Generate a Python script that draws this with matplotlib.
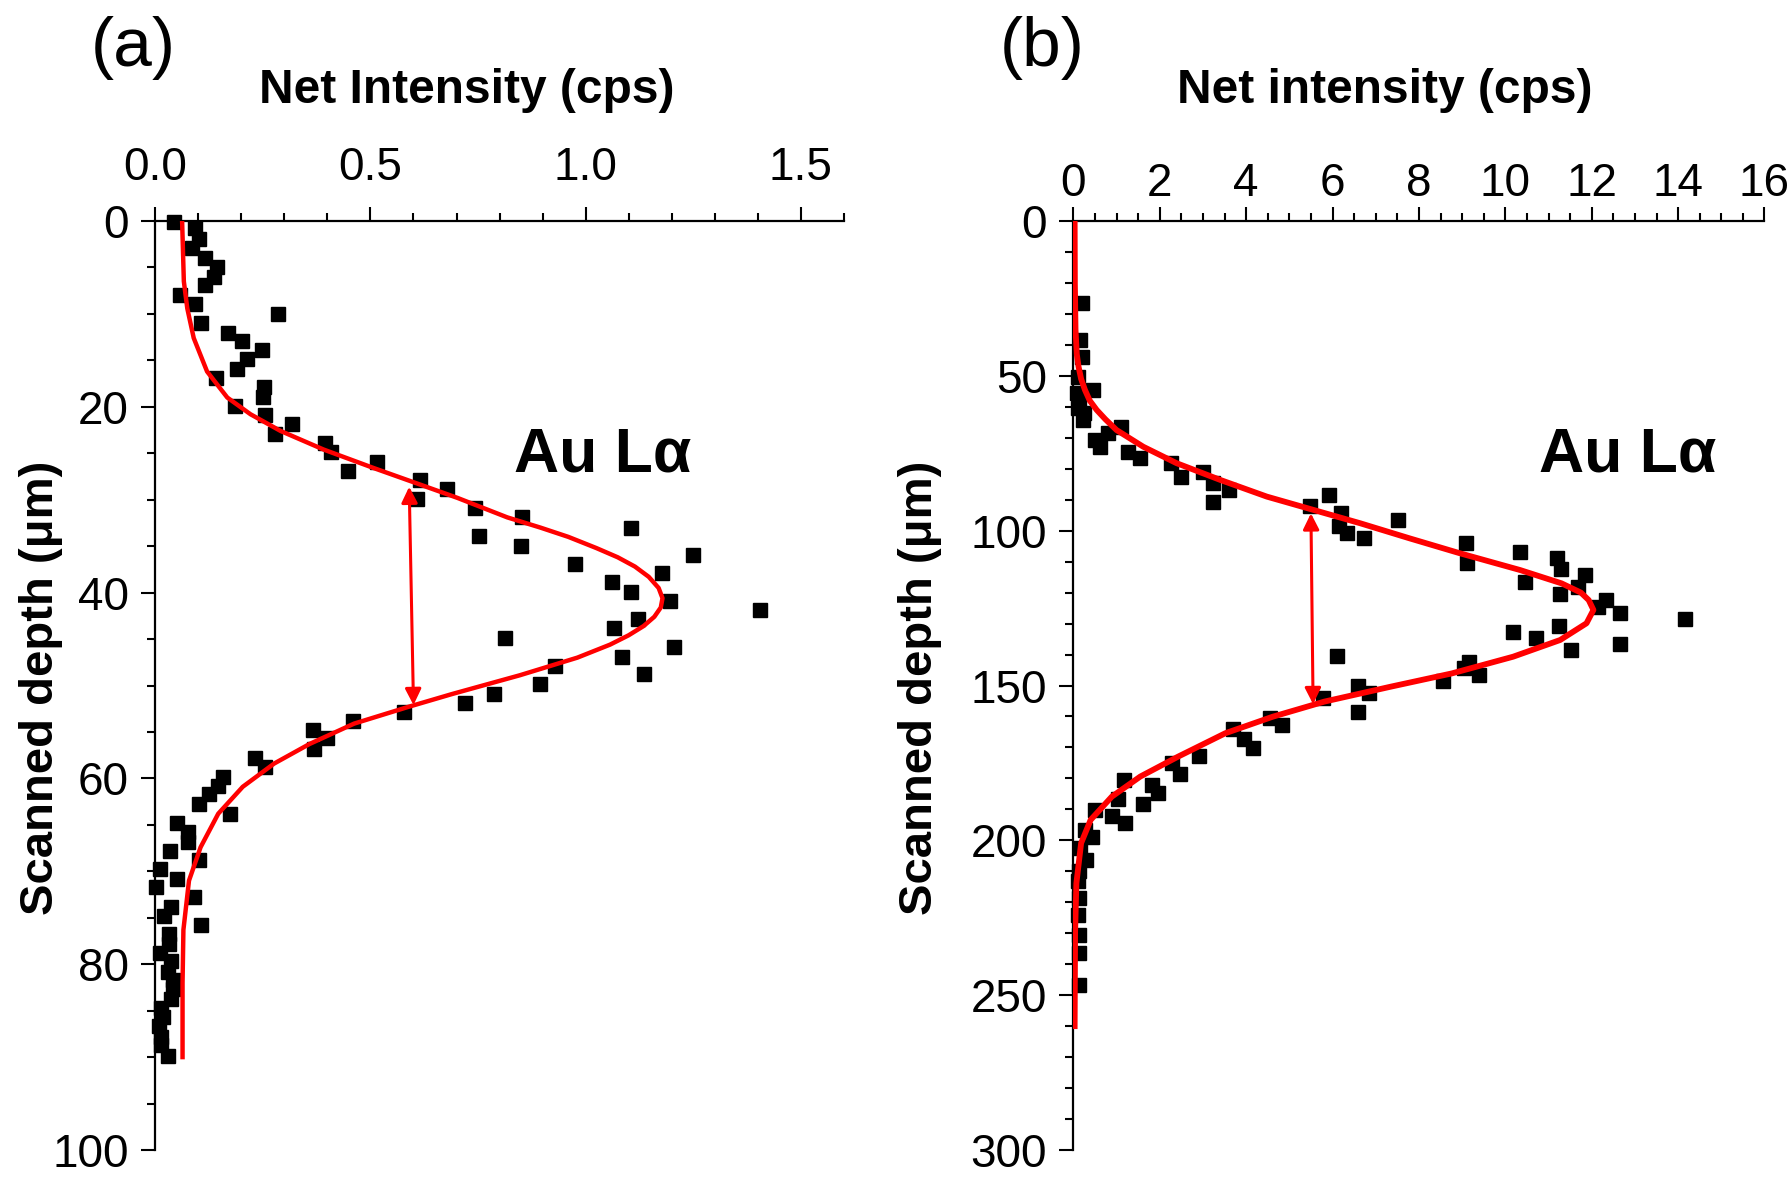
import matplotlib
matplotlib.use("Agg")
import matplotlib.pyplot as plt
from matplotlib.ticker import MultipleLocator, FormatStrFormatter

plt.rcParams['font.family'] = ['Liberation Sans', 'DejaVu Sans']

# ---- panel (a): measured points (depth in um, net intensity in cps)
depth_a = [0.1, 0.8, 1.9, 2.9, 4.0, 4.9, 6.0, 6.9, 8.0, 8.9, 10.0, 11.0, 12.0, 12.9,
           13.9, 14.9, 15.9, 16.9, 17.9, 18.9, 19.9, 20.9, 21.9, 22.9, 23.9, 24.9,
           25.9, 26.9, 27.9, 28.8, 29.9, 30.9, 31.9, 33.0, 33.9, 35.0, 36.0, 36.9,
           37.9, 38.9, 39.9, 40.9, 41.9, 42.8, 43.8, 44.9, 45.9, 46.9, 47.9, 48.8,
           49.8, 50.9, 51.9, 52.8, 53.8, 54.8, 55.7, 56.8, 57.8, 58.8, 59.8, 60.8,
           61.7, 62.8, 63.8, 64.8, 65.8, 66.8, 67.8, 68.8, 69.8, 70.8, 71.7, 72.8,
           73.8, 74.8, 75.8, 76.8, 77.8, 78.8, 79.7, 80.8, 81.7, 82.7, 83.7, 84.7,
           85.7, 86.7, 87.8, 88.7, 89.9]
intensity_a = [0.043, 0.093, 0.101, 0.085, 0.116, 0.143, 0.136, 0.116, 0.057, 0.091,
               0.285, 0.106, 0.168, 0.202, 0.248, 0.213, 0.190, 0.141, 0.252, 0.250,
               0.186, 0.254, 0.318, 0.277, 0.394, 0.409, 0.516, 0.448, 0.615, 0.678,
               0.608, 0.743, 0.853, 1.106, 0.752, 0.849, 1.250, 0.976, 1.178, 1.062,
               1.106, 1.197, 1.406, 1.122, 1.066, 0.813, 1.206, 1.085, 0.929, 1.135,
               0.895, 0.787, 0.719, 0.577, 0.459, 0.366, 0.400, 0.369, 0.231, 0.255,
               0.156, 0.145, 0.124, 0.102, 0.173, 0.050, 0.075, 0.075, 0.034, 0.102,
               0.011, 0.050, 0.002, 0.089, 0.035, 0.021, 0.106, 0.032, 0.032, 0.011,
               0.037, 0.030, 0.040, 0.041, 0.035, 0.014, 0.017, 0.008, 0.014, 0.014,
               0.029]

# fitted profile
fit_depth_a = [0, 6.5, 9.4, 12.6, 16.2, 19.0, 20.8, 22.6, 24.6, 26.6, 28.0, 29.8, 31.9,
               33.0, 34.0, 35.2, 36.2, 37.2, 38.3, 39.5, 40.6, 41.6, 42.6, 43.6, 44.6,
               45.6, 47.0, 48.9, 50.9, 52.3, 54.1, 56.3, 58.4, 60.9, 63.8, 67.4, 71.0,
               76.3, 82.0, 90.0]
fit_int_a = [0.062, 0.066, 0.074, 0.089, 0.120, 0.167, 0.221, 0.291, 0.391, 0.508,
             0.593, 0.702, 0.818, 0.895, 0.960, 1.025, 1.075, 1.115, 1.147, 1.170,
             1.179, 1.175, 1.160, 1.135, 1.100, 1.057, 0.981, 0.847, 0.691, 0.588,
             0.462, 0.358, 0.276, 0.203, 0.146, 0.105, 0.078, 0.065, 0.063, 0.063]

# FWHM arrow ends (intensity, depth)
arrow_a = [(0.590, 28.6), (0.600, 52.1)]

# ---- panel (b)
depth_b = [26.6, 38.4, 43.8, 50.5, 54.6, 55.6, 57.7, 60.5, 62.1, 64.3, 66.4, 68.6,
           70.8, 72.9, 74.5, 76.6, 78.2, 81.0, 82.6, 84.7, 86.9, 88.5, 90.6, 92.0,
           94.4, 96.5, 98.5, 100.6, 102.5, 104.1, 106.8, 108.7, 110.5, 112.5, 114.3,
           116.5, 118.3, 120.6, 122.4, 124.7, 126.5, 128.6, 130.8, 132.6, 134.5,
           136.6, 138.5, 140.5, 142.3, 144.4, 146.6, 148.5, 150.3, 152.5, 154.1,
           158.4, 160.6, 162.7, 164.1, 167.4, 170.3, 172.7, 174.9, 178.6, 180.5,
           182.1, 184.8, 186.7, 188.2, 190.2, 192.3, 194.5, 196.6, 198.8, 202.6,
           206.3, 210.0, 213.0, 218.5, 224.0, 230.5, 236.4, 246.6]
intensity_b = [0.19, 0.15, 0.19, 0.10, 0.45, 0.08, 0.12, 0.10, 0.25, 0.23, 1.11, 0.81,
               0.50, 0.62, 1.27, 1.54, 2.27, 3.00, 2.50, 3.23, 3.61, 5.91, 3.23, 5.47,
               6.20, 7.52, 6.15, 6.33, 6.73, 9.10, 10.35, 11.20, 9.12, 11.30, 11.84,
               10.45, 11.68, 11.27, 12.33, 12.15, 12.66, 14.17, 11.24, 10.18, 10.71,
               12.66, 11.53, 6.10, 9.15, 9.04, 9.40, 8.55, 6.58, 6.85, 5.78, 6.58,
               4.55, 4.83, 3.70, 3.95, 4.15, 2.91, 2.28, 2.48, 1.17, 1.82, 1.97, 1.03,
               1.62, 0.51, 0.89, 1.19, 0.26, 0.44, 0.16, 0.29, 0.12, 0.10, 0.12, 0.10,
               0.14, 0.14, 0.14]

fit_depth_b = [0, 20, 35, 43, 47, 51, 54.6, 58, 61.0, 64, 67.5, 72.9, 78.2, 83.6, 89.0,
               93.3, 97.6, 102.5, 107.3, 112.7, 117.0, 120, 122.4, 125.6, 129.9, 135.3,
               140.7, 146.1, 150.4, 155.2, 160.1, 165.4, 173.0, 179.4, 185.9, 193.4,
               200.9, 213.9, 230, 260]
fit_int_b = [0.03, 0.035, 0.05, 0.08, 0.12, 0.18, 0.27, 0.38, 0.54, 0.74, 1.00, 1.62,
             2.39, 3.40, 4.48, 5.56, 6.64, 7.79, 8.95, 10.34, 11.30, 11.75, 11.93, 12.04,
             11.88, 11.27, 10.18, 8.76, 7.34, 5.81, 4.61, 3.52, 2.42, 1.55, 0.89, 0.40,
             0.18, 0.07, 0.04, 0.03]

arrow_b = [(5.50, 94.4), (5.55, 156.0)]


fig = plt.figure(figsize=(17.91, 11.81), dpi=100)
ax_a = fig.add_axes([0.0868, 0.02625, 0.3842, 0.7866])
ax_b = fig.add_axes([0.5993, 0.02625, 0.3859, 0.7866])


def style_axis(ax, xmax, ymax, xmaj, xmin, ymaj, ymin, xpad):
    ax.set_xlim(0, xmax)
    ax.set_ylim(ymax, 0)
    ax.xaxis.tick_top()
    ax.xaxis.set_label_position('top')
    for s in ('bottom', 'right'):
        ax.spines[s].set_visible(False)
    for s in ('top', 'left'):
        ax.spines[s].set_linewidth(1.6)
    ax.xaxis.set_major_locator(MultipleLocator(xmaj))
    ax.xaxis.set_minor_locator(MultipleLocator(xmin))
    ax.yaxis.set_major_locator(MultipleLocator(ymaj))
    ax.yaxis.set_minor_locator(MultipleLocator(ymin))
    ax.tick_params(which='major', direction='out', length=10, width=1.5,
                   labelsize=33)
    ax.tick_params(which='minor', direction='out', length=5.5, width=1.5)
    ax.tick_params(axis='x', which='major', pad=xpad)
    ax.tick_params(axis='y', which='major', pad=9)


style_axis(ax_a, 1.6, 100, 0.5, 0.1, 20, 5, 12)
style_axis(ax_b, 16, 300, 2, 0.5, 50, 10, 1)
ax_a.xaxis.set_major_formatter(FormatStrFormatter('%.1f'))

ax_a.plot(intensity_a, depth_a, 's', color='black', markersize=9.5, clip_on=False,
          zorder=3)
ax_a.plot(fit_int_a, fit_depth_a, color='red', lw=3.2, zorder=4)
ax_b.plot(intensity_b, depth_b, 's', color='black', markersize=9.5, clip_on=False,
          zorder=3)
ax_b.plot(fit_int_b, fit_depth_b, color='red', lw=4.2, zorder=4)

for ax, arr in ((ax_a, arrow_a), (ax_b, arrow_b)):
    ax.annotate('', xy=arr[0], xytext=arr[1],
                arrowprops=dict(arrowstyle='<|-|>', color='red', lw=2.2,
                                mutation_scale=24, shrinkA=0, shrinkB=0),
                zorder=5)

ax_a.set_xlabel('Net Intensity (cps)', fontsize=34.5, fontweight='bold', va='center')
ax_b.set_xlabel('Net intensity (cps)', fontsize=34.5, fontweight='bold', va='center')
ax_a.xaxis.set_label_coords(0.452, 1.14)
ax_b.xaxis.set_label_coords(0.451, 1.14)

ax_a.set_ylabel('Scanned depth (μm)', fontsize=34, fontweight='bold', va='center')
ax_b.set_ylabel('Scanned depth (μm)', fontsize=34, fontweight='bold', va='center')
ax_a.yaxis.set_label_coords(-0.166, 0.497)
ax_b.yaxis.set_label_coords(-0.2215, 0.497)

ax_a.text(1.041, 27.0, 'Au Lα', fontsize=45, fontweight='bold', ha='center',
          va='baseline')
ax_b.text(12.83, 80.9, 'Au Lα', fontsize=45, fontweight='bold', ha='center',
          va='baseline')

fig.text(133 / 1791, 1 - 48 / 1181, '(a)', fontsize=50, ha='center', va='center')
fig.text(1042 / 1791, 1 - 48 / 1181, '(b)', fontsize=50, ha='center', va='center')

fig.savefig('out.png', dpi=100)
